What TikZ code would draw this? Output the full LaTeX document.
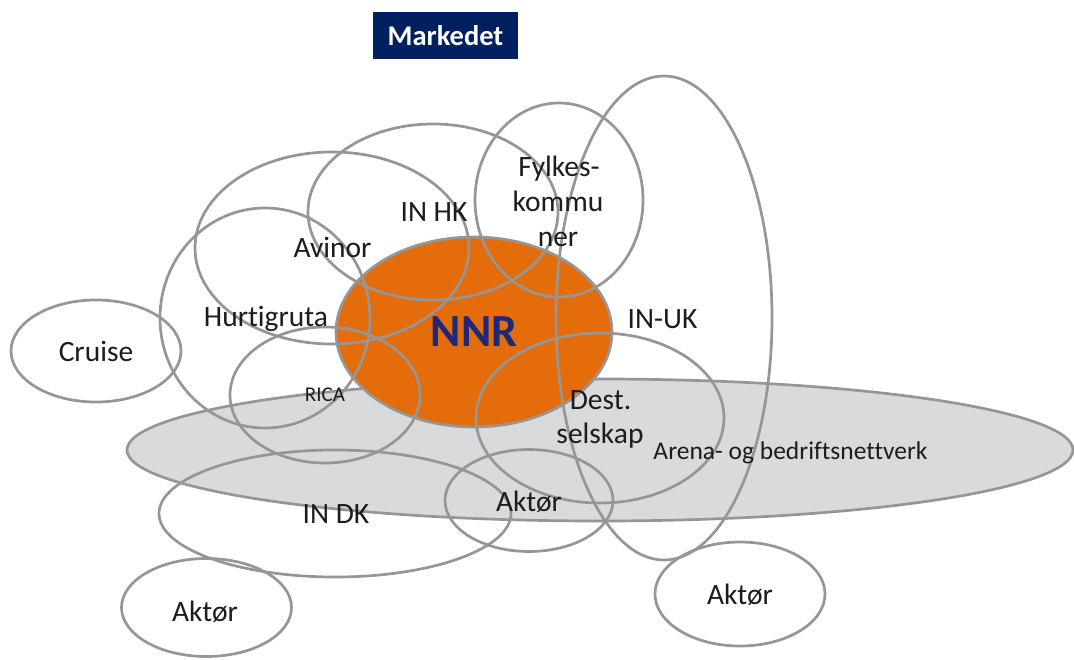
\documentclass[tikz,border=0pt]{standalone}
\usepackage{fontspec}
\setmainfont{Carlito}[Ligatures=CommonOff]
\usetikzlibrary{shapes.geometric}

\definecolor{ringgray}{RGB}{150,150,150}
\definecolor{arenagray}{RGB}{216,218,220}
\definecolor{nnrorange}{RGB}{228,108,10}
\definecolor{boxnavy}{RGB}{0,32,96}
\definecolor{inkgray}{RGB}{28,28,28}
\definecolor{nnrblue}{RGB}{30,40,122}

\begin{document}
\begin{tikzpicture}[x=1pt,y=-1pt,
  ring/.style={ellipse, draw=ringgray, line width=2.7pt, inner sep=0pt},
  lbl/.style={anchor=base, text=inkgray, inner sep=0pt,
              font=\fontsize{29.5}{35}\selectfont},
  smalllbl/.style={lbl, font=\fontsize{21}{25}\selectfont},
  arenalbl/.style={lbl, font=\fontsize{25.5}{30}\selectfont}]

\useasboundingbox (0,0) rectangle (1074,659);

% title box
\node[fill=boxnavy, minimum width=145pt, minimum height=47pt, inner sep=0pt,
      text=white, font=\bfseries\fontsize{28.5}{34}\selectfont]
  (markedet) at (445.5,35.5) {Markedet};

% filled areas
\node[ring, fill=arenagray, minimum width=946pt, minimum height=142pt] (arena) at (600,450) {};
\node[ring, fill=nnrorange, minimum width=276pt, minimum height=190pt,
      text=nnrblue, font=\bfseries\fontsize{46}{50}\selectfont] (nnr) at (474,332) {NNR};

% actor rings
\node[ring, minimum width=170pt, minimum height=102pt] (cruise) at (96,351) {};
\node[ring, minimum width=210pt, minimum height=220pt] (hurtig) at (265,318) {};
\node[ring, minimum width=274pt, minimum height=192pt] (avinor) at (332,248) {};
\node[ring, minimum width=250pt, minimum height=176pt] (inhk) at (433,212) {};
\node[ring, minimum width=168pt, minimum height=194pt] (fylke) at (559,200) {};
\node[ring, minimum width=216pt, minimum height=484pt] (inuk) at (664,318) {};
\node[ring, minimum width=248pt, minimum height=170pt] (dest) at (600,418) {};
\node[ring, minimum width=190pt, minimum height=136pt] (rica) at (325,395) {};
\node[ring, minimum width=352pt, minimum height=127pt] (indk) at (335,513.5) {};
\node[ring, minimum width=168pt, minimum height=102pt] (aktorA) at (529,500.5) {};
\node[ring, minimum width=170pt, minimum height=98pt] (aktorB) at (206.5,607.5) {};
\node[ring, minimum width=170pt, minimum height=104pt] (aktorC) at (740,594) {};

% labels
\node[lbl] (cruise-t) at (96,361) {Cruise};
\node[lbl] (hurtig-t) at (266,326.7) {Hurtigruta};
\node[lbl] (avinor-t) at (332.5,257.3) {Avinor};
\node[lbl] (inhk-t) at (434,221.7) {IN HK};
\node[lbl] (fylke-t1) at (559,176.7) {Fylkes-};
\node[lbl] (fylke-t2) at (558,211.7) {kommu};
\node[lbl] (fylke-t3) at (558,246.7) {ner};
\node[lbl] (inuk-t) at (662.5,328.3) {IN-UK};
\node[lbl] (dest-t1) at (600.5,409) {Dest.};
\node[lbl] (dest-t2) at (600,443.3) {selskap};
\node[smalllbl] (rica-t) at (325,401.7) {RICA};
\node[arenalbl] (arena-t) at (790.5,459) {Arena- og bedriftsnettverk};
\node[lbl] (indk-t) at (336,523.3) {IN DK};
\node[lbl] (aktorA-t) at (529,511) {Aktør};
\node[lbl] (aktorB-t) at (205,621) {Aktør};
\node[lbl] (aktorC-t) at (740,604.3) {Aktør};

\end{tikzpicture}
\end{document}
